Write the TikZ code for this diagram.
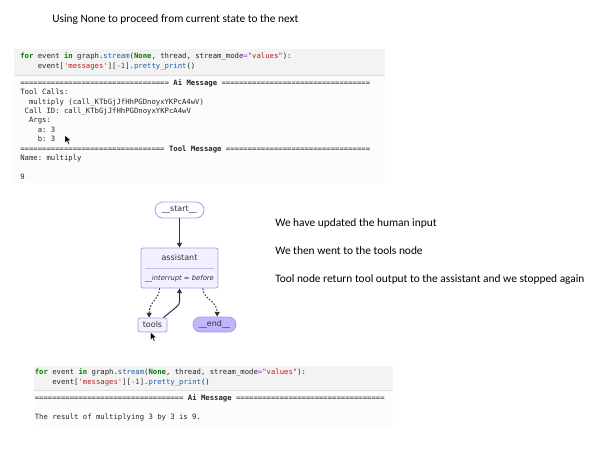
\documentclass[tikz,border=0pt]{standalone}
\usepackage{fontspec}
\setmainfont{Carlito}
\setmonofont{DejaVu Sans Mono}
\newfontfamily\graphfont{DejaVu Sans}
\usepackage{xcolor}
\usetikzlibrary{arrows.meta}

\definecolor{cellbg}{HTML}{F3F3F3}
\definecolor{outbg}{HTML}{FCFCFC}
\definecolor{kwgreen}{HTML}{008000}
\definecolor{strred}{HTML}{BA2121}
\definecolor{attrblue}{HTML}{1F5FA8}
\definecolor{oppurple}{HTML}{AA22FF}
\definecolor{nodefill}{HTML}{F2F0FF}
\definecolor{nodeline}{HTML}{A99CE6}
\definecolor{endfill}{HTML}{BFB6FC}
\definecolor{edgegray}{HTML}{333333}

\newcommand{\kw}[1]{\textcolor{kwgreen}{\bfseries #1}}
\newcommand{\strg}[1]{\textcolor{strred}{#1}}
\newcommand{\attr}[1]{\textcolor{attrblue}{#1}}
\newcommand{\opr}[1]{\textcolor{oppurple}{#1}}
\newcommand{\sepa}{==================================}
\newcommand{\sepb}{=================================}

\tikzset{
  prose/.style={anchor=base west, inner sep=0pt, font=\fontsize{8.55}{10}\selectfont},
  codeln/.style={anchor=base west, inner sep=0pt, font=\ttfamily\fontsize{5.45}{6.5}\selectfont, text=black!85},
  gnode/.style={draw=nodeline, fill=nodefill, line width=0.6pt, inner sep=0pt, font=\graphfont\fontsize{6}{7}\selectfont, text=black!80},
  flow/.style={draw=edgegray, line width=0.75pt, -{Triangle[length=3.6pt,width=3.8pt]}},
  flowdot/.style={flow, dash pattern=on 1.2pt off 1.2pt},
}

\begin{document}
\begin{tikzpicture}[x=0.75pt,y=0.75pt,yscale=-1,xscale=1]
\useasboundingbox (0,0) rectangle (608,455);

% Text Node
\node [prose] (title) at (52,22.5) {Using None to proceed from current state to the next};

%Shape: Rectangle [cell 1]
\fill [cellbg] (14,49) rectangle (385,75);
\fill [outbg] (14,75) rectangle (385,183);
\draw [black!12, line width=0.4pt] (14,75) -- (385,75);

% Text Node
\node [codeln] (c1a) at (20,58.5) {\kw{for} event \kw{in} graph.\attr{stream}(\kw{None}, thread, stream\_mode\opr{=}\strg{"values"}):};
% Text Node
\node [codeln] (c1b) at (37.5,68) {event[\strg{'messages'}][\opr{-}\textcolor{kwgreen}{1}].\attr{pretty\_print}()};
% Text Node
\node [codeln] (o1) at (20,85.2) {\sepa{} \textbf{Ai Message} \sepa};
% Text Node
\node [codeln] (o2) at (20,94.6) {Tool Calls:};
% Text Node
\node [codeln] (o3) at (28.75,104) {multiply (call\_KTbGjJfHhPGDnoyxYKPcA4wV)};
% Text Node
\node [codeln] (o4) at (24.4,113.4) {Call ID: call\_KTbGjJfHhPGDnoyxYKPcA4wV};
% Text Node
\node [codeln] (o5) at (28.75,122.8) {Args:};
% Text Node
\node [codeln] (o6) at (37.5,132.2) {a: 3};
% Text Node
\node [codeln] (o7) at (37.5,141.6) {b: 3};
% Text Node
\node [codeln] (o8) at (20,151) {\sepb{} \textbf{Tool Message} \sepb};
% Text Node
\node [codeln] (o9) at (20,160.4) {Name: multiply};
% Text Node
\node [codeln] (o10) at (20,179.2) {9};

%Cursor
\filldraw [black, draw=white, line width=0.3pt, shift={(65,135)}] (0,0) -- (0,8) -- (1.9,6.2) -- (3.3,9.3) -- (4.6,8.7) -- (3.2,5.7) -- (5.8,5.7) -- cycle;

%Graph nodes
\node [gnode, rounded corners=6pt, fill=white, minimum width=36.75pt, minimum height=12pt] (start) at (179.5,210) {\_\_start\_\_};
\node [gnode, rounded corners=1.5pt, minimum width=57.75pt, minimum height=30pt] (asst) at (179.5,268) {};
\node [gnode, rounded corners=1.5pt, minimum width=21.75pt, minimum height=10.5pt] (tools) at (152.5,325) {tools};
\node [gnode, rounded corners=5.6pt, fill=endfill, minimum width=32.25pt, minimum height=11.25pt] (end) at (214.5,324.5) {\_\_end\_\_};

% Text Node
\node [inner sep=0pt, font=\graphfont\fontsize{6}{7}\selectfont, text=black!80] (asstlbl) at (179.5,258) {assistant};
% Text Node
\node [inner sep=0pt, font=\graphfont\itshape\fontsize{5.1}{6}\selectfont, text=black!80] (intlbl) at (179.5,278.5) {\_\_interrupt = before};
\draw [nodeline!70, line width=0.4pt] ([xshift=3pt]asst.west) -- ([xshift=-3pt]asst.east);

%Connectors
\draw [flow] (start) -- (asst);
\draw [flowdot] ([xshift=-15pt]asst.south) .. controls +(0,8pt) and +(0,-12pt) .. ([xshift=-2.5pt]tools.north);
\draw [flow, rounded corners=2pt] ([xshift=-3pt]tools.north east) -- ([yshift=12pt]asst.south) -- (asst.south);
\draw [flowdot] ([xshift=17.5pt]asst.south) .. controls +(0,8pt) and +(0,-12pt) .. ([xshift=2pt]end.north);

%Cursor
\filldraw [black, draw=white, line width=0.3pt, shift={(150.5,332)}] (0,0) -- (0,8) -- (1.9,6.2) -- (3.3,9.3) -- (4.6,8.7) -- (3.2,5.7) -- (5.8,5.7) -- cycle;

% Text Node
\node [prose] (note1) at (275,226) {We have updated the human input};
% Text Node
\node [prose] (note2) at (275,254.5) {We then went to the tools node};
% Text Node
\node [prose] (note3) at (275,282) {Tool node return tool output to the assistant and we stopped again};

%Shape: Rectangle [cell 2]
\fill [cellbg] (34,366) rectangle (393,390);
\fill [outbg] (34,390) rectangle (393,426);
\draw [black!12, line width=0.4pt] (34,390) -- (393,390);

% Text Node
\node [codeln] (c2a) at (34.5,374.5) {\kw{for} event \kw{in} graph.\attr{stream}(\kw{None}, thread, stream\_mode\opr{=}\strg{"values"}):};
% Text Node
\node [codeln] (c2b) at (52,384.5) {event[\strg{'messages'}][\opr{-}\textcolor{kwgreen}{1}].\attr{pretty\_print}()};
% Text Node
\node [codeln] (o11) at (34.5,400.2) {\sepa{} \textbf{Ai Message} \sepa};
% Text Node
\node [codeln] (o12) at (34.5,419.2) {The result of multiplying 3 by 3 is 9.};

\end{tikzpicture}
\end{document}
